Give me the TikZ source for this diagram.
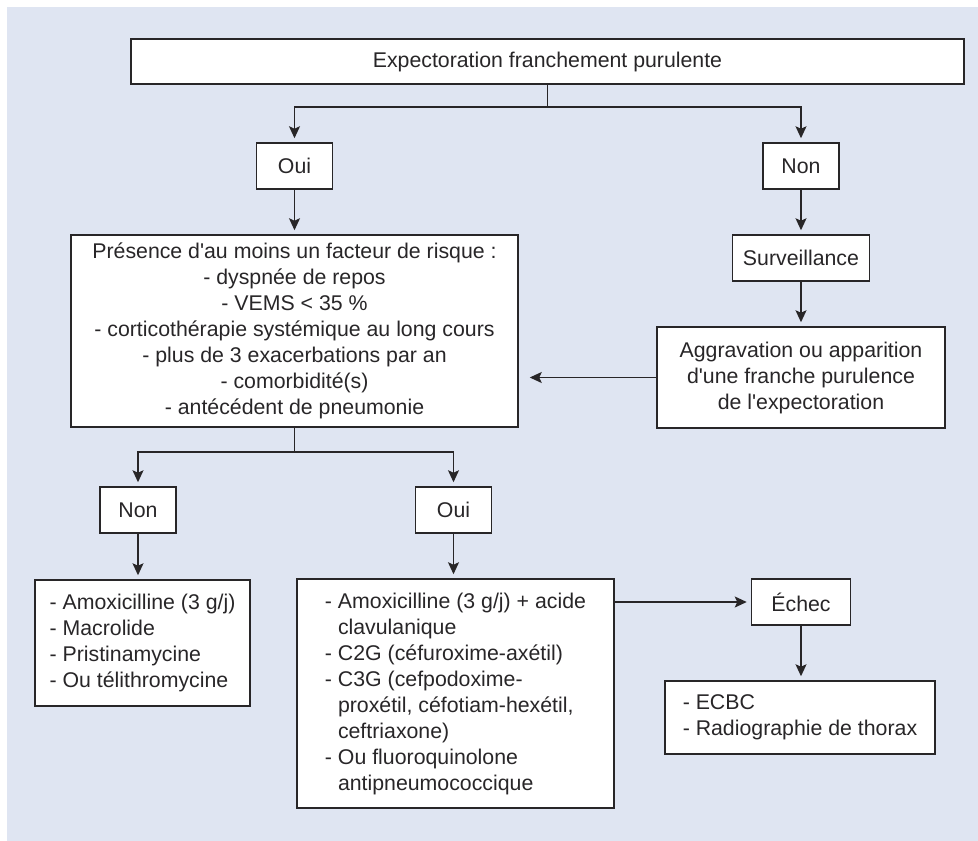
\documentclass[tikz,border=0pt]{standalone}
\usepackage{fontspec}
\setmainfont{Liberation Sans}
\usetikzlibrary{arrows.meta}
\definecolor{fondbleu}{RGB}{223,229,242}
\definecolor{trait}{RGB}{40,38,40}
\newcommand{\apos}{\textquotesingle}
\tikzset{
	boite/.style={draw=trait, fill=white, line width=1.5pt, inner sep=0pt, text=trait, font=\fontsize{21.3}{26}\selectfont},
	fleche/.style={draw=trait, line width=1.5pt, -{Stealth[length=12pt,width=11pt,inset=2.5pt]}, shorten >=4pt},
	lien/.style={draw=trait, line width=1.5pt}
}
\begin{document}
\begin{tikzpicture}[x=1pt,y=-1pt]
		\useasboundingbox (0,0) rectangle (978,841);
		\fill[fondbleu] (7,7) rectangle (978,841);
		% premiere question
		\node[boite, minimum width=833, minimum height=45] (expecto) at (547.5,61.5) {Expectoration franchement purulente};
		\node[boite, minimum width=76, minimum height=46] (oui1) at (294.5,166) {Oui};
		\node[boite, minimum width=76, minimum height=46] (non1) at (801,166) {Non};
		\node[boite, minimum width=447, minimum height=192, align=center] (risque) at (294.5,331) {Présence d\apos au moins un facteur de risque :\\- dyspnée de repos\\- VEMS < 35 \%\\- corticothérapie systémique au long cours\\- plus de 3 exacerbations par an\\- comorbidité(s)\\- antécédent de pneumonie};
		\node[boite, minimum width=137, minimum height=46] (surv) at (801,258) {Surveillance};
		\node[boite, minimum width=288, minimum height=101, align=center] (aggr) at (801,377.5) {Aggravation ou apparition\\d\apos une franche purulence\\de l\apos expectoration};
		% seconde question
		\node[boite, minimum width=76, minimum height=46] (non2) at (138,510) {Non};
		\node[boite, minimum width=76, minimum height=46] (oui2) at (453.5,510) {Oui};
		\node[boite, minimum width=215, minimum height=126, align=left] (listenon) at (142.5,643) {- Amoxicilline (3 g/j)\\- Macrolide\\- Pristinamycine\\- Ou télithromycine};
		\node[boite, minimum width=317, minimum height=229, align=left] (listeoui) at (455.5,693.5) {- Amoxicilline (3 g/j) + acide\\\hphantom{- }clavulanique\\- C2G (céfuroxime-axétil)\\- C3G (cefpodoxime-\\\hphantom{- }proxétil, céfotiam-hexétil,\\\hphantom{- }ceftriaxone)\\- Ou fluoroquinolone\\\hphantom{- }antipneumococcique};
		\node[boite, minimum width=99, minimum height=46] (echec) at (801,602) {Échec};
		\node[boite, minimum width=270, minimum height=73, align=left] (examens) at (800,717.5) {- ECBC\\- Radiographie de thorax};
		% liaisons
		\coordinate (fourche1) at (547.5,107);
		\draw[lien] (expecto.south) -- (fourche1);
		\draw[fleche] (fourche1) -| (oui1.north);
		\draw[fleche] (fourche1) -| (non1.north);
		\draw[fleche] (oui1.south) -- (risque.north);
		\draw[fleche] (non1.south) -- (surv.north);
		\draw[fleche] (surv.south) -- (aggr.north);
		\draw[fleche, shorten >=11pt] (aggr.west) -- (aggr.west -| risque.east);
		\coordinate (fourche2) at (294.5,452);
		\draw[lien] (risque.south) -- (fourche2);
		\draw[fleche] (fourche2) -| (non2.north);
		\draw[fleche] (fourche2) -| (oui2.north);
		\draw[fleche] (non2.south) -- (non2.south |- listenon.north);
		\draw[fleche] (oui2.south) -- (oui2.south |- listeoui.north);
		\draw[fleche] (listeoui.east |- echec.west) -- (echec.west);
		\draw[fleche] (echec.south) -- (echec.south |- examens.north);
	\end{tikzpicture}
\end{document}
